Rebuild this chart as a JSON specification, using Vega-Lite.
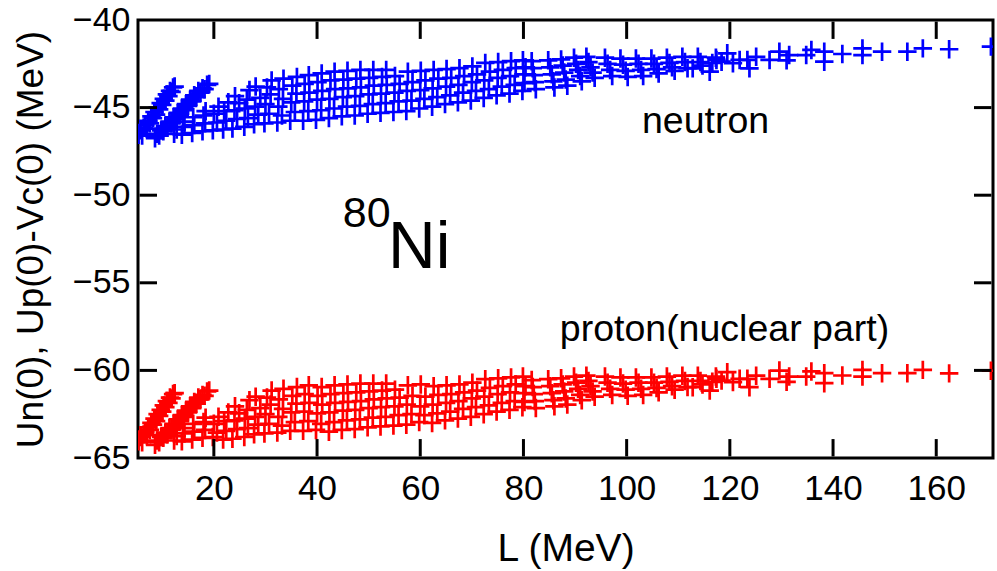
{
  "$schema": "https://vega.github.io/schema/vega-lite/v6.json",
  "width": 855,
  "height": 438,
  "autosize": "none",
  "padding": {"left": 138, "top": 20, "right": 4, "bottom": 113},
  "background": "white",
  "config": {
    "font": "Liberation Sans",
    "view": {"stroke": "black", "strokeWidth": 3},
    "axis": {
      "grid": false,
      "domain": false,
      "ticks": false,
      "labelColor": "black",
      "labelFont": "Liberation Sans",
      "titleFont": "Liberation Sans",
      "titleColor": "black",
      "titleFontWeight": "normal"
    }
  },
  "datasets": {
    "xticks": [{"v": 20}, {"v": 40}, {"v": 60}, {"v": 80}, {"v": 100}, {"v": 120}, {"v": 140}, {"v": 160}],
    "yticks": [{"v": -60}, {"v": -55}, {"v": -50}, {"v": -45}]
  },
  "layer": [
    {
      "data": {
        "values": [
          {"L":5.4,"n":-46.55,"p":-64.05},{"L":5.8,"n":-46.3,"p":-63.8},{"L":6.1,"n":-46.6,"p":-64.1},{"L":6.4,"n":-46.15,"p":-63.65},{"L":6.7,"n":-46.0,"p":-63.5},{"L":7.0,"n":-46.2,"p":-63.7},{"L":7.3,"n":-45.75,"p":-63.25},{"L":7.6,"n":-45.9,"p":-63.4},{"L":7.9,"n":-45.5,"p":-63.0},{"L":8.2,"n":-45.6,"p":-63.1},{"L":8.5,"n":-45.25,"p":-62.75},{"L":8.8,"n":-45.4,"p":-62.9},{"L":9.1,"n":-45.0,"p":-62.5},{"L":9.4,"n":-45.1,"p":-62.6},{"L":9.7,"n":-44.75,"p":-62.25},{"L":10.0,"n":-44.85,"p":-62.35},{"L":10.3,"n":-44.5,"p":-62.0},{"L":10.6,"n":-44.6,"p":-62.1},{"L":10.9,"n":-44.25,"p":-61.75},{"L":11.2,"n":-44.35,"p":-61.85},{"L":11.5,"n":-44.05,"p":-61.55},{"L":11.8,"n":-44.1,"p":-61.6},{"L":12.1,"n":-43.85,"p":-61.35},{"L":12.4,"n":-43.8,"p":-61.3},
          {"L":8.6,"n":-46.75,"p":-64.25},{"L":9.0,"n":-46.5,"p":-64.0},{"L":9.4,"n":-46.6,"p":-64.1},{"L":9.8,"n":-46.3,"p":-63.8},{"L":10.2,"n":-46.35,"p":-63.85},{"L":10.6,"n":-46.05,"p":-63.55},{"L":11.0,"n":-46.15,"p":-63.65},{"L":11.4,"n":-45.8,"p":-63.3},{"L":11.8,"n":-45.9,"p":-63.4},{"L":12.2,"n":-45.55,"p":-63.05},{"L":12.6,"n":-45.65,"p":-63.15},{"L":13.0,"n":-45.3,"p":-62.8},{"L":13.4,"n":-45.4,"p":-62.9},{"L":13.8,"n":-45.05,"p":-62.55},{"L":14.2,"n":-45.15,"p":-62.65},{"L":14.6,"n":-44.8,"p":-62.3},{"L":15.0,"n":-44.9,"p":-62.4},{"L":15.4,"n":-44.55,"p":-62.05},{"L":15.8,"n":-44.65,"p":-62.15},{"L":16.2,"n":-44.3,"p":-61.8},{"L":16.6,"n":-44.4,"p":-61.9},{"L":17.0,"n":-44.05,"p":-61.55},{"L":17.4,"n":-44.15,"p":-61.65},{"L":17.8,"n":-43.9,"p":-61.4},{"L":18.2,"n":-43.95,"p":-61.45},{"L":18.7,"n":-43.7,"p":-61.2},{"L":19.1,"n":-43.65,"p":-61.15},
          {"L":12.3,"n":-46.5,"p":-64.0},{"L":12.8,"n":-46.25,"p":-63.75},{"L":13.8,"n":-46.55,"p":-64.05},{"L":14.3,"n":-46.1,"p":-63.6},{"L":14.0,"n":-45.8,"p":-63.3},{"L":15.8,"n":-46.45,"p":-63.95},{"L":16.2,"n":-46.0,"p":-63.5},{"L":16.0,"n":-45.55,"p":-63.05},{"L":17.8,"n":-46.35,"p":-63.85},{"L":18.3,"n":-45.9,"p":-63.4},{"L":18.0,"n":-45.45,"p":-62.95},{"L":18.4,"n":-45.2,"p":-62.7},
          {"L":19.8,"n":-46.3,"p":-63.8},{"L":20.6,"n":-45.85,"p":-63.55},{"L":20.0,"n":-45.35,"p":-63.05},{"L":20.9,"n":-44.95,"p":-62.65},{"L":21.8,"n":-46.25,"p":-63.95},{"L":22.4,"n":-45.75,"p":-63.45},{"L":22.0,"n":-45.2,"p":-62.9},{"L":22.8,"n":-44.7,"p":-62.4},{"L":23.6,"n":-46.2,"p":-63.9},{"L":24.5,"n":-45.65,"p":-63.35},{"L":24.0,"n":-45.15,"p":-62.85},{"L":24.9,"n":-44.75,"p":-62.45},{"L":24.1,"n":-44.35,"p":-62.05},
          {"L":25.9,"n":-46.1,"p":-63.8},{"L":26.6,"n":-45.6,"p":-63.3},{"L":26.0,"n":-45.05,"p":-62.75},{"L":26.4,"n":-44.55,"p":-62.25},{"L":26.9,"n":-44.0,"p":-61.7},{"L":27.8,"n":-45.95,"p":-63.65},{"L":28.6,"n":-45.4,"p":-63.1},{"L":28.0,"n":-44.95,"p":-62.65},{"L":29.0,"n":-44.45,"p":-62.15},{"L":28.1,"n":-43.8,"p":-61.5},
          {"L":29.8,"n":-45.9,"p":-63.6},{"L":30.7,"n":-45.35,"p":-63.05},{"L":30.0,"n":-44.8,"p":-62.5},{"L":31.0,"n":-44.25,"p":-61.95},{"L":30.3,"n":-43.85,"p":-61.55},{"L":31.2,"n":-43.45,"p":-61.15},
          {"L":32.3,"n":-45.85,"p":-63.55},{"L":33.2,"n":-45.45,"p":-63.15},{"L":32.5,"n":-44.95,"p":-62.65},{"L":33.4,"n":-44.5,"p":-62.2},{"L":32.6,"n":-43.95,"p":-61.65},{"L":33.5,"n":-43.35,"p":-61.05},
          {"L":34.8,"n":-45.75,"p":-63.45},{"L":35.7,"n":-45.25,"p":-62.95},{"L":35.0,"n":-44.7,"p":-62.4},{"L":36.0,"n":-44.2,"p":-61.9},{"L":35.2,"n":-43.75,"p":-61.45},{"L":36.1,"n":-43.25,"p":-60.95},
          {"L":37.3,"n":-45.75,"p":-63.45},{"L":38.3,"n":-45.2,"p":-62.9},{"L":37.5,"n":-44.65,"p":-62.35},{"L":38.5,"n":-44.15,"p":-61.85},{"L":37.6,"n":-43.65,"p":-61.35},{"L":38.4,"n":-43.15,"p":-60.85},
          {"L":39.8,"n":-45.7,"p":-63.4},{"L":40.8,"n":-45.15,"p":-63.05},{"L":40.0,"n":-44.55,"p":-62.45},{"L":41.0,"n":-44.05,"p":-61.95},{"L":40.1,"n":-43.55,"p":-61.45},{"L":40.9,"n":-43.05,"p":-60.95},
          {"L":42.3,"n":-45.6,"p":-63.5},{"L":43.3,"n":-45.05,"p":-62.95},{"L":42.4,"n":-44.5,"p":-62.4},{"L":43.5,"n":-43.95,"p":-61.85},{"L":42.6,"n":-43.45,"p":-61.35},{"L":43.4,"n":-42.95,"p":-60.85},
          {"L":44.8,"n":-45.5,"p":-63.4},{"L":45.8,"n":-44.95,"p":-62.85},{"L":45.0,"n":-44.4,"p":-62.3},{"L":46.0,"n":-43.9,"p":-61.8},{"L":45.1,"n":-43.4,"p":-61.3},{"L":45.9,"n":-42.9,"p":-60.8},
          {"L":47.3,"n":-45.45,"p":-63.35},{"L":48.3,"n":-44.9,"p":-62.8},{"L":47.4,"n":-44.35,"p":-62.25},{"L":48.5,"n":-43.85,"p":-61.75},{"L":47.6,"n":-43.35,"p":-61.25},{"L":48.4,"n":-42.85,"p":-60.75},
          {"L":49.8,"n":-45.35,"p":-63.25},{"L":50.8,"n":-44.8,"p":-62.7},{"L":50.0,"n":-44.25,"p":-62.15},{"L":51.0,"n":-43.75,"p":-61.65},{"L":50.1,"n":-43.3,"p":-61.2},{"L":50.9,"n":-42.85,"p":-60.75},
          {"L":52.3,"n":-45.3,"p":-63.2},{"L":53.3,"n":-44.75,"p":-62.65},{"L":52.4,"n":-44.2,"p":-62.1},{"L":53.5,"n":-43.7,"p":-61.6},{"L":52.6,"n":-43.25,"p":-61.15},{"L":53.4,"n":-42.85,"p":-60.75},
          {"L":54.8,"n":-45.25,"p":-63.15},{"L":55.8,"n":-44.65,"p":-62.55},{"L":55.0,"n":-44.15,"p":-62.05},{"L":56.0,"n":-43.65,"p":-61.55},{"L":55.1,"n":-43.2,"p":-61.1},
          {"L":57.3,"n":-45.2,"p":-63.1},{"L":58.3,"n":-44.6,"p":-62.5},{"L":57.4,"n":-44.05,"p":-61.95},{"L":58.5,"n":-43.55,"p":-61.45},{"L":57.6,"n":-42.95,"p":-60.85},
          {"L":59.8,"n":-45.05,"p":-62.95},{"L":60.8,"n":-44.5,"p":-62.55},{"L":60.0,"n":-44.0,"p":-62.05},{"L":61.0,"n":-43.45,"p":-61.5},{"L":60.1,"n":-42.9,"p":-60.8},
          {"L":62.3,"n":-44.95,"p":-63.0},{"L":63.3,"n":-44.4,"p":-62.45},{"L":62.4,"n":-43.9,"p":-61.95},{"L":63.5,"n":-43.35,"p":-61.4},{"L":62.6,"n":-42.85,"p":-60.9},
          {"L":64.8,"n":-44.8,"p":-62.85},{"L":65.8,"n":-44.3,"p":-62.35},{"L":65.0,"n":-43.8,"p":-61.85},{"L":66.0,"n":-43.3,"p":-61.35},{"L":65.1,"n":-42.8,"p":-60.85},
          {"L":67.3,"n":-44.7,"p":-62.75},{"L":68.3,"n":-44.15,"p":-62.2},{"L":67.4,"n":-43.7,"p":-61.75},{"L":68.5,"n":-43.2,"p":-61.25},{"L":67.6,"n":-42.75,"p":-60.8},
          {"L":69.8,"n":-44.6,"p":-62.65},{"L":70.8,"n":-44.05,"p":-62.1},{"L":70.0,"n":-43.55,"p":-61.6},{"L":71.0,"n":-43.1,"p":-61.15},{"L":70.1,"n":-42.65,"p":-60.7},
          {"L":72.3,"n":-44.45,"p":-62.5},{"L":73.3,"n":-43.95,"p":-62.0},{"L":72.4,"n":-43.45,"p":-61.5},{"L":73.5,"n":-42.95,"p":-61.0},{"L":72.6,"n":-42.45,"p":-60.5},
          {"L":74.8,"n":-44.3,"p":-62.35},{"L":75.8,"n":-43.8,"p":-61.85},{"L":75.0,"n":-43.3,"p":-61.35},{"L":76.0,"n":-42.85,"p":-60.9},{"L":75.1,"n":-42.4,"p":-60.45},
          {"L":77.3,"n":-44.2,"p":-62.25},{"L":78.3,"n":-43.7,"p":-61.75},{"L":77.4,"n":-43.2,"p":-61.25},{"L":78.5,"n":-42.75,"p":-60.8},{"L":77.6,"n":-42.35,"p":-60.4},
          {"L":79.8,"n":-44.05,"p":-62.1},{"L":80.2,"n":-43.6,"p":-61.8},{"L":80.0,"n":-43.1,"p":-61.3},{"L":80.4,"n":-42.7,"p":-60.9},{"L":79.9,"n":-42.3,"p":-60.35},
          {"L":81.6,"n":-42.35,"p":-60.55},{"L":81.8,"n":-42.75,"p":-60.95},{"L":82.0,"n":-43.15,"p":-61.35},{"L":82.2,"n":-43.55,"p":-61.75},{"L":82.4,"n":-43.95,"p":-62.15},
          {"L":84.8,"n":-42.3,"p":-60.5},{"L":85.2,"n":-42.7,"p":-60.9},{"L":85.5,"n":-43.1,"p":-61.3},{"L":85.8,"n":-43.5,"p":-61.7},{"L":86.0,"n":-43.85,"p":-62.05},
          {"L":87.3,"n":-42.25,"p":-60.45},{"L":87.6,"n":-42.6,"p":-60.8},{"L":87.9,"n":-43.0,"p":-61.2},{"L":88.2,"n":-43.4,"p":-61.6},{"L":88.5,"n":-43.75,"p":-61.95},
          {"L":89.8,"n":-42.15,"p":-60.35},{"L":90.2,"n":-42.5,"p":-60.7},{"L":90.6,"n":-42.85,"p":-61.05},{"L":91.0,"n":-43.2,"p":-61.4},{"L":91.3,"n":-43.5,"p":-61.7},
          {"L":92.2,"n":-42.1,"p":-60.3},{"L":92.6,"n":-42.4,"p":-60.6},{"L":93.0,"n":-42.7,"p":-60.9},{"L":93.4,"n":-43.0,"p":-61.2},{"L":93.8,"n":-43.3,"p":-61.5},
          {"L":95.8,"n":-42.15,"p":-60.35},{"L":96.3,"n":-42.5,"p":-60.7},{"L":96.8,"n":-42.85,"p":-61.05},{"L":97.2,"n":-43.2,"p":-61.4},
          {"L":98.8,"n":-42.2,"p":-60.4},{"L":99.3,"n":-42.55,"p":-60.75},{"L":99.8,"n":-42.9,"p":-61.1},{"L":100.2,"n":-43.25,"p":-61.45},
          {"L":101.8,"n":-42.2,"p":-60.4},{"L":102.3,"n":-42.5,"p":-60.7},{"L":102.8,"n":-42.85,"p":-61.05},{"L":103.2,"n":-43.2,"p":-61.4},
          {"L":104.8,"n":-42.2,"p":-60.4},{"L":105.3,"n":-42.5,"p":-60.7},{"L":105.8,"n":-42.8,"p":-61.0},{"L":106.2,"n":-43.05,"p":-61.25},
          {"L":107.8,"n":-42.15,"p":-60.35},{"L":108.3,"n":-42.45,"p":-60.65},{"L":108.8,"n":-42.7,"p":-60.9},{"L":109.3,"n":-42.9,"p":-61.1},
          {"L":110.8,"n":-42.1,"p":-60.3},{"L":111.3,"n":-42.4,"p":-60.6},{"L":111.8,"n":-42.75,"p":-60.95},{"L":112.8,"n":-42.76,"p":-60.96},
          {"L":113.8,"n":-42.1,"p":-60.3},{"L":114.3,"n":-42.4,"p":-60.6},{"L":114.7,"n":-42.6,"p":-60.8},{"L":116.1,"n":-42.95,"p":-61.15},{"L":116.6,"n":-42.45,"p":-60.65},{"L":117.3,"n":-42.15,"p":-60.35},{"L":117.4,"n":-42.28,"p":-60.48},{"L":118.4,"n":-42.38,"p":-60.58},{"L":119.5,"n":-41.9,"p":-60.1},
          {"L":120.6,"n":-42.47,"p":-60.67},{"L":121.9,"n":-42.28,"p":-60.48},{"L":123.4,"n":-42.28,"p":-60.48},{"L":123.8,"n":-42.76,"p":-60.96},{"L":125.1,"n":-42.1,"p":-60.3},{"L":127.7,"n":-42.28,"p":-60.48},{"L":129.6,"n":-41.81,"p":-60.01},
          {"L":131.0,"n":-42.3,"p":-60.65},{"L":131.5,"n":-42.0,"p":-60.35},{"L":134.8,"n":-42.0,"p":-60.35},{"L":135.8,"n":-41.71,"p":-60.06},{"L":138.3,"n":-41.81,"p":-60.16},{"L":138.3,"n":-42.38,"p":-60.73},{"L":141.8,"n":-41.94,"p":-60.29},{"L":145.7,"n":-41.62,"p":-59.97},{"L":145.7,"n":-42.0,"p":-60.35},{"L":149.5,"n":-41.81,"p":-60.16},
          {"L":154.4,"n":-41.81,"p":-60.16},{"L":157.4,"n":-41.62,"p":-59.97},{"L":162.5,"n":-41.67,"p":-60.17},{"L":170.6,"n":-41.52,"p":-60.02}
        ]
      },
      "transform": [{"fold": ["n", "p"], "as": ["series", "value"]}],
      "mark": {
        "type": "point",
        "shape": "M-1,0L1,0M0,-1L0,1",
        "filled": false,
        "size": 340,
        "strokeWidth": 2.7,
        "opacity": 1,
        "clip": true
      },
      "encoding": {
        "x": {
          "field": "L",
          "type": "quantitative",
          "scale": {"domain": [5.3, 171], "nice": false, "zero": false, "padding": 0},
          "axis": {
            "orient": "bottom",
            "values": [20, 40, 60, 80, 100, 120, 140, 160],
            "labelFontSize": 35,
            "labelPadding": 13,
            "title": "L (MeV)",
            "titleFontSize": 39,
            "titlePadding": 23
          }
        },
        "y": {
          "field": "value",
          "type": "quantitative",
          "scale": {"domain": [-65, -40], "nice": false, "zero": false, "padding": 0},
          "axis": {
            "orient": "left",
            "values": [-65, -60, -55, -50, -45, -40],
            "labelFontSize": 34,
            "labelPadding": 8,
            "labelFlush": false,
            "labelOverlap": false,
            "title": "Un(0), Up(0)-Vc(0) (MeV)",
            "titleFontSize": 37,
            "titlePadding": 22
          }
        },
        "color": {
          "field": "series",
          "type": "nominal",
          "scale": {"domain": ["n", "p"], "range": ["#0000ff", "#ff0000"]},
          "legend": null
        }
      }
    },
    {
      "data": {"name": "xticks"},
      "mark": {"type": "bar", "color": "#000000", "size": 3, "opacity": 1},
      "encoding": {
        "x": {"field": "v", "type": "quantitative"},
        "y": {"datum": -64.91, "type": "quantitative"},
        "y2": {"datum": -63.92}
      }
    },
    {
      "data": {"name": "xticks"},
      "mark": {"type": "bar", "color": "#000000", "size": 3, "opacity": 1},
      "encoding": {
        "x": {"field": "v", "type": "quantitative"},
        "y": {"datum": -41.08, "type": "quantitative"},
        "y2": {"datum": -40.09}
      }
    },
    {
      "data": {"name": "yticks"},
      "mark": {"type": "bar", "color": "#000000", "size": 3, "opacity": 1, "orient": "horizontal"},
      "encoding": {
        "y": {"field": "v", "type": "quantitative"},
        "x": {"datum": 5.61, "type": "quantitative"},
        "x2": {"datum": 8.98}
      }
    },
    {
      "data": {"name": "yticks"},
      "mark": {"type": "bar", "color": "#000000", "size": 3, "opacity": 1, "orient": "horizontal"},
      "encoding": {
        "y": {"field": "v", "type": "quantitative"},
        "x": {"datum": 167.32, "type": "quantitative"},
        "x2": {"datum": 170.69}
      }
    },
    {
      "data": {
        "values": [
          {"label": "neutron", "tx": 115.3, "ty": -46.45},
          {"label": "proton(nuclear part)", "tx": 118.96, "ty": -58.32}
        ]
      },
      "mark": {"type": "text", "fontSize": 37.5, "font": "Liberation Sans", "align": "center", "baseline": "alphabetic", "color": "black"},
      "encoding": {
        "x": {"field": "tx", "type": "quantitative"},
        "y": {"field": "ty", "type": "quantitative"},
        "text": {"field": "label"}
      }
    },
    {
      "data": {"values": [{"label": "80", "tx": 45.0, "ty": -51.81}]},
      "mark": {"type": "text", "fontSize": 43, "font": "Liberation Sans", "align": "left", "baseline": "alphabetic", "color": "black"},
      "encoding": {
        "x": {"field": "tx", "type": "quantitative"},
        "y": {"field": "ty", "type": "quantitative"},
        "text": {"field": "label"}
      }
    },
    {
      "data": {"values": [{"label": "Ni", "tx": 53.75, "ty": -54.16}]},
      "mark": {"type": "text", "fontSize": 66, "font": "Liberation Sans", "align": "left", "baseline": "alphabetic", "color": "black"},
      "encoding": {
        "x": {"field": "tx", "type": "quantitative"},
        "y": {"field": "ty", "type": "quantitative"},
        "text": {"field": "label"}
      }
    }
  ]
}
